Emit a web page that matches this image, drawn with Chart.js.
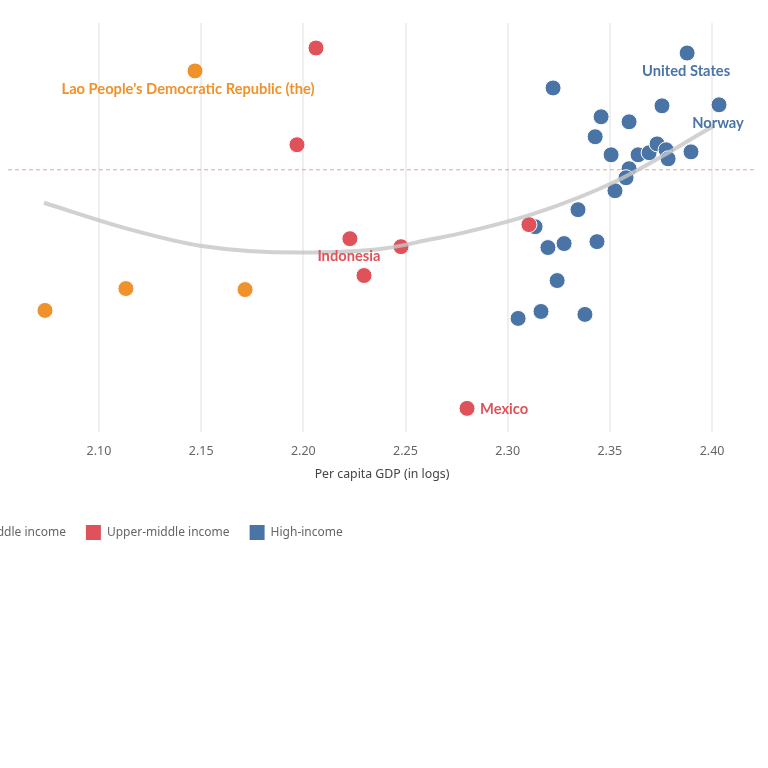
<!DOCTYPE html>
<html>
<head>
<meta charset="utf-8">
<script src="https://cdn.jsdelivr.net/npm/chart.js@4.4.0/dist/chart.umd.min.js"></script>
<style>
  html, body { margin: 0; padding: 0; background: #fff; overflow: hidden; width: 768px; height: 768px; }
  #wrap { position: absolute; left: -97px; top: 0; width: 865px; height: 550px; }
</style>
</head>
<body>
<div id="wrap"><canvas id="gdpChart" width="865" height="550"></canvas></div>
<script>
// 数据：x = 人均GDP(对数)，y = 纵轴指标
const groupNames = ["Lower-middle income", "Upper-middle income", "High-income"];
const groupColors = ["#F0922B", "#E0525A", "#4A74A6"];

const lowerMidX = [2.147, 2.0736, 2.1132, 2.1715];
const lowerMidY = [0.569, -0.810, -0.684, -0.690];

const upperMidX = [2.2062, 2.1969, 2.2228, 2.2478, 2.2297, 2.3104, 2.2801];
const upperMidY = [0.701, 0.144, -0.397, -0.443, -0.609, -0.316, -1.374];

const highX = [2.3878, 2.3222, 2.4034, 2.3755, 2.3457, 2.3594, 2.3428, 2.3506, 2.3638,
               2.3692, 2.3731, 2.3775, 2.3785, 2.3897, 2.3594, 2.3579, 2.3525, 2.3344,
               2.3134, 2.3197, 2.3276, 2.3437, 2.3242, 2.3163, 2.3051, 2.3378];
const highY = [0.672, 0.471, 0.374, 0.368, 0.305, 0.276, 0.190, 0.086, 0.086,
               0.098, 0.149, 0.115, 0.063, 0.103, 0.006, -0.046, -0.121, -0.230,
               -0.328, -0.448, -0.425, -0.414, -0.638, -0.816, -0.856, -0.833];

// 拟合曲线
const trendX = [2.0731, 2.1137, 2.1494, 2.1984, 2.2395, 2.262, 2.2786, 2.3129, 2.3535, 2.401];
const trendY = [-0.190, -0.339, -0.437, -0.477, -0.454, -0.402, -0.362, -0.253, -0.063, 0.253];

// 参考线
const refY = 0;

// 刻度
const xTicks = [2.10, 2.15, 2.20, 2.25, 2.30, 2.35, 2.40];
const yTicks = [-1.5, -1.0, -0.5, 0, 0.5];
const xMin = 2.0555, xMax = 2.4215;
const yMin = -1.51, yMax = 0.845;

// 标注的国家
const callouts = [
  { group: 0, index: 0, text: "Lao People's Democratic Republic (the)" },
  { group: 1, index: 2, text: "Indonesia" },
  { group: 1, index: 6, text: "Mexico" },
  { group: 2, index: 0, text: "United States" },
  { group: 2, index: 2, text: "Norway" }
];

function toPoints(xs, ys) {
  return xs.map((x, i) => ({ x: x, y: ys[i] }));
}

const FONT = "'Noto Sans', sans-serif";

/** 在点旁边写国家名 */
const calloutPlugin = {
  id: "callouts",
  afterDatasetsDraw(chart) {
    const ctx = chart.ctx;
    ctx.save();
    ctx.font = "bold 14.7px Lato, sans-serif";
    ctx.textBaseline = "middle";
    callouts.forEach((c) => {
      const meta = chart.getDatasetMeta(c.group);
      const el = meta.data[c.index];
      if (!el) return;
      ctx.fillStyle = groupColors[c.group];
      if (c.text === "Mexico") {
        ctx.textAlign = "left";
        ctx.fillText(c.text, el.x + 13, el.y + 1);
      } else if (c.group === 0) {
        ctx.textAlign = "center";
        ctx.fillText(c.text, el.x - 7, el.y + 18);
      } else {
        ctx.textAlign = "center";
        ctx.fillText(c.text, el.x - 1, el.y + 18);
      }
    });
    ctx.restore();
  }
};

const scatterSets = [
  [lowerMidX, lowerMidY],
  [upperMidX, upperMidY],
  [highX, highY]
].map((s, i) => ({
  type: "scatter",
  label: groupNames[i],
  data: toPoints(s[0], s[1]),
  backgroundColor: groupColors[i],
  borderColor: "#ffffff",
  borderWidth: 1,
  pointRadius: 8,
  pointHoverRadius: 8,
  order: 2
}));

const ctx = document.getElementById("gdpChart").getContext("2d");
new Chart(ctx, {
  data: {
    datasets: scatterSets.concat([
      {
        type: "line",
        label: "trend",
        data: toPoints(trendX, trendY),
        borderColor: "rgba(198,198,198,0.8)",
        borderWidth: 4,
        pointRadius: 0,
        tension: 0.4,
        cubicInterpolationMode: "monotone",
        fill: false,
        order: 1
      },
      {
        type: "line",
        label: "ref",
        data: [{ x: xMin, y: refY }, { x: xMax, y: refY }],
        borderColor: "rgba(228,120,120,0.7)",
        borderWidth: 1,
        borderDash: [4, 3],
        pointRadius: 0,
        fill: false,
        order: 3
      }
    ])
  },
  options: {
    responsive: false,
    animation: false,
    layout: { padding: { top: 23, right: 12, left: 0, bottom: 0 } },
    scales: {
      x: {
        type: "linear",
        min: xMin,
        max: xMax,
        afterBuildTicks: (scale) => { scale.ticks = xTicks.map((v) => ({ value: v })); },
        afterFit: (scale) => { scale.height = 73; },
        grid: { color: "#efefef", lineWidth: 2, drawTicks: false },
        border: { display: false },
        ticks: {
          padding: 12,
          color: "#666",
          font: { family: FONT, size: 12.5 },
          callback: (v) => Number(v).toFixed(2)
        },
        title: {
          display: true,
          text: "Per capita GDP (in logs)",
          color: "#444",
          font: { family: FONT, size: 12.3 },
          padding: { top: 8, bottom: 23 }
        }
      },
      y: {
        type: "linear",
        min: yMin,
        max: yMax,
        afterBuildTicks: (scale) => { scale.ticks = yTicks.map((v) => ({ value: v })); },
        afterFit: (scale) => { scale.width = 105; },
        grid: { display: false },
        border: { display: false },
        ticks: {
          padding: 6,
          color: "#999",
          font: { family: FONT, size: 12 },
          callback: (v) => Number(v).toFixed(1)
        }
      }
    },
    plugins: {
      legend: {
        position: "bottom",
        align: "start",
        labels: {
          boxWidth: 15,
          boxHeight: 15,
          padding: 20,
          color: "#666",
          font: { family: FONT, size: 12 },
          generateLabels: (chart) => groupNames.map((n, i) => ({
            text: n,
            fillStyle: groupColors[i],
            strokeStyle: groupColors[i],
            lineWidth: 0,
            datasetIndex: i,
            fontColor: "#666"
          }))
        }
      },
      tooltip: { enabled: false }
    }
  },
  plugins: [calloutPlugin]
});
</script>
</body>
</html>
